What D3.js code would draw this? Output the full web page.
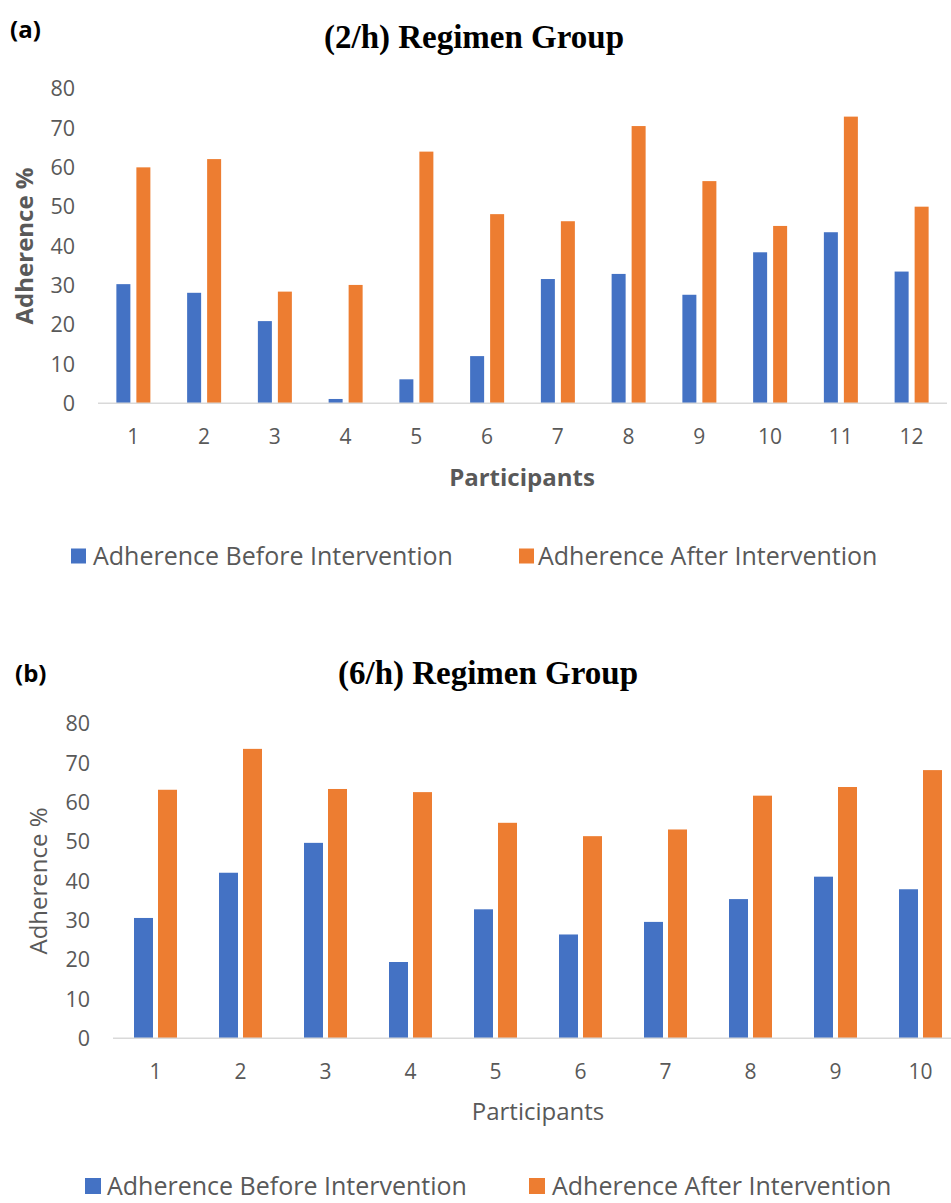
<!DOCTYPE html>
<html>
<head>
<meta charset="utf-8">
<script src="https://cdn.jsdelivr.net/npm/d3@7"></script>
<style>
  html, body { margin: 0; padding: 0; background: #fff; overflow: hidden; }
  svg { display: block; }
</style>
</head>
<body>
<svg id="chart" width="951" height="1203"></svg>
<script>
// ---- Data ----
const seriesNames = ["Adherence Before Intervention", "Adherence After Intervention"];
const seriesColors = ["#4472C4", "#ED7D31"];
const yTicks = [0, 10, 20, 30, 40, 50, 60, 70, 80];

const participantsA = ["1","2","3","4","5","6","7","8","9","10","11","12"];
const beforeA = [30.3, 28.1, 20.9, 1.1, 6.1, 12.0, 31.6, 32.9, 27.6, 38.4, 43.5, 33.5];
const afterA  = [60.0, 62.1, 28.4, 30.1, 64.0, 48.1, 46.3, 70.5, 56.5, 45.1, 72.9, 50.0];

const participantsB = ["1","2","3","4","5","6","7","8","9","10"];
const beforeB = [30.6, 42.1, 49.7, 19.4, 32.8, 26.4, 29.6, 35.4, 41.1, 37.9];
const afterB  = [63.2, 73.6, 63.4, 62.6, 54.8, 51.4, 53.1, 61.7, 63.9, 68.2];

const svg = d3.select("#chart");
const sansFont = "'Open Sans', 'Noto Sans', sans-serif";
const gray = "#595959";

function drawPanel(cfg) {
  const g = svg.append("g");
  const x0 = d3.scaleBand().domain(cfg.cats).range(cfg.xRange).paddingInner(0).paddingOuter(0);
  const x1 = d3.scaleBand().domain([0, 1]).range([-cfg.groupW / 2, cfg.groupW / 2])
    .paddingInner(cfg.gap / (cfg.barW + cfg.gap)).paddingOuter(0);
  const y = d3.scaleLinear().domain([0, 80]).range(cfg.yRange);

  // panel label
  g.append("text").attr("x", cfg.labelX).attr("y", cfg.labelY)
    .attr("font-family", sansFont).attr("font-weight", "bold").attr("font-size", 24)
    .attr("fill", "#000").text(cfg.label);

  // title
  g.append("text").attr("x", cfg.titleX).attr("y", cfg.titleY).attr("text-anchor", "middle")
    .attr("font-family", "'Liberation Serif', 'Times New Roman', serif")
    .attr("font-weight", "bold").attr("font-size", 33).attr("fill", "#000").text(cfg.title);

  // y tick labels
  g.append("g").selectAll("text").data(yTicks).join("text")
    .attr("x", cfg.yTickX).attr("y", d => y(d)).attr("dy", "0.35em")
    .attr("text-anchor", "end").attr("font-family", sansFont).attr("font-size", 21.5)
    .attr("fill", gray).text(d => d);

  // y axis title
  g.append("text")
    .attr("transform", `translate(${cfg.yTitleX},${cfg.yTitleY}) rotate(-90)`)
    .attr("text-anchor", "middle").attr("dy", "0.35em")
    .attr("font-family", sansFont).attr("font-weight", cfg.axisBold ? "bold" : "normal")
    .attr("font-size", 24).attr("fill", gray).text("Adherence %");

  // bars
  const rows = cfg.cats.map((c, i) => ({ c, vals: [cfg.before[i], cfg.after[i]] }));
  const groups = g.append("g").selectAll("g").data(rows).join("g")
    .attr("transform", d => `translate(${x0(d.c) + x0.bandwidth() / 2},0)`);
  groups.selectAll("rect").data(d => d.vals.map((v, k) => ({ v, k }))).join("rect")
    .attr("x", d => x1(d.k)).attr("width", x1.bandwidth())
    .attr("y", d => y(d.v)).attr("height", d => y(0) - y(d.v))
    .attr("fill", d => seriesColors[d.k]);

  // baseline
  g.append("line").attr("x1", cfg.xRange[0]).attr("x2", cfg.xRange[1])
    .attr("y1", y(0)).attr("y2", y(0)).attr("stroke", "#D9D9D9").attr("stroke-width", 1.5);

  // x tick labels
  g.append("g").selectAll("text").data(cfg.cats).join("text")
    .attr("x", d => x0(d) + x0.bandwidth() / 2).attr("y", cfg.xTickY).attr("dy", "0.35em")
    .attr("text-anchor", "middle").attr("font-family", sansFont).attr("font-size", 21)
    .attr("fill", gray).text(d => d);

  // x axis title
  g.append("text").attr("x", cfg.xTitleX).attr("y", cfg.xTitleY).attr("dy", "0.35em")
    .attr("text-anchor", "middle").attr("font-family", sansFont)
    .attr("font-weight", cfg.axisBold ? "bold" : "normal").attr("font-size", 24)
    .attr("fill", gray).text("Participants");

  // legend
  const lg = g.append("g");
  seriesNames.forEach((name, k) => {
    const it = cfg.legend[k];
    lg.append("rect").attr("x", it.sx).attr("y", cfg.legendY - it.ss / 2)
      .attr("width", it.ss).attr("height", it.ss).attr("fill", seriesColors[k]);
    lg.append("text").attr("x", it.tx).attr("y", cfg.legendY).attr("dy", "0.35em")
      .attr("font-family", sansFont).attr("font-size", cfg.legendFont)
      .attr("fill", gray).text(name);
  });
}

drawPanel({
  label: "(a)", labelX: 10, labelY: 38,
  title: "(2/h) Regimen Group", titleX: 474, titleY: 48,
  cats: participantsA, before: beforeA, after: afterA,
  xRange: [98, 947], yRange: [403.3, 88.7],
  barW: 14, gap: 6, groupW: 34,
  yTickX: 75, yTitleX: 25, yTitleY: 246, axisBold: true,
  xTickY: 437, xTitleX: 522, xTitleY: 478,
  legendY: 556, legendFont: 25,
  legend: [{ sx: 71, ss: 15, tx: 93 }, { sx: 519, ss: 15, tx: 538 }]
});

drawPanel({
  label: "(b)", labelX: 15, labelY: 682,
  title: "(6/h) Regimen Group", titleX: 488, titleY: 684,
  cats: participantsB, before: beforeB, after: afterB,
  xRange: [113, 963], yRange: [1038.3, 723.7],
  barW: 19, gap: 5, groupW: 43,
  yTickX: 90, yTitleX: 39, yTitleY: 881, axisBold: false,
  xTickY: 1072, xTitleX: 538, xTitleY: 1112,
  legendY: 1186, legendFont: 25,
  legend: [{ sx: 85, ss: 16, tx: 107 }, { sx: 529, ss: 16, tx: 552 }]
});
</script>
</body>
</html>
